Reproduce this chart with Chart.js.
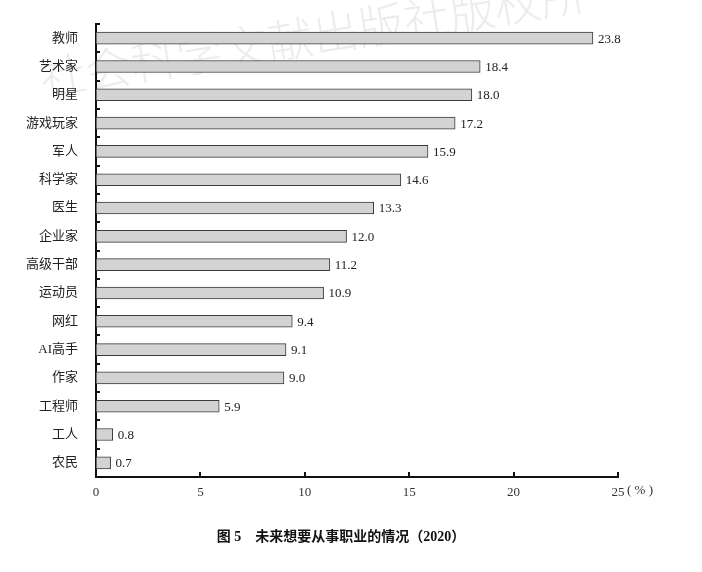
<!DOCTYPE html>
<html><head><meta charset="utf-8">
<script src="https://cdn.jsdelivr.net/npm/chart.js@4/dist/chart.umd.min.js"></script>
<style>html,body{margin:0;padding:0;background:#fff}#wrap{width:702px;height:572px;position:relative}</style>
</head><body><div id="wrap"><canvas id="c" width="702" height="572"></canvas></div>
<script>
const categories = ["教师","艺术家","明星","游戏玩家","军人","科学家","医生","企业家","高级干部","运动员","网红","AI高手","作家","工程师","工人","农民"];
const values = [23.8,18.4,18.0,17.2,15.9,14.6,13.3,12.0,11.2,10.9,9.4,9.1,9.0,5.9,0.8,0.7];
const xTicks = [0,5,10,15,20,25];
const unitLabel = "( % )";
const titleText = "图 5　未来想要从事职业的情况（2020）";
const watermark = "社会科学文献出版社版权所";

const serif = "'Liberation Serif','Noto Sans CJK SC',serif";

const deco = {
  id: 'deco',
  beforeDraw(chart) {
    const ctx = chart.ctx;
    ctx.save();
    ctx.translate(43, 96);
    ctx.rotate(-9 * Math.PI / 180);
    ctx.font = "300 46px 'Noto Sans CJK SC'";
    ctx.fillStyle = 'rgba(150,150,150,0.18)';
    ctx.textBaseline = 'alphabetic';
    ctx.fillText(watermark, 0, 0);
    ctx.restore();
  },
  afterDraw(chart) {
    const ctx = chart.ctx, x = chart.scales.x, y = chart.scales.y, ca = chart.chartArea;
    ctx.save();
    ctx.strokeStyle = '#111'; ctx.lineWidth = 2;
    const step = y.getPixelForValue(1) - y.getPixelForValue(0);
    for (let i = 0; i <= categories.length; i++) {
      const py = i < categories.length ? y.getPixelForValue(i) - step / 2 : ca.bottom;
      ctx.beginPath(); ctx.moveTo(ca.left, Math.round(py)); ctx.lineTo(ca.left + 4, Math.round(py)); ctx.stroke();
    }
    xTicks.forEach(v => {
      const px = Math.round(x.getPixelForValue(v));
      ctx.beginPath(); ctx.moveTo(px, ca.bottom); ctx.lineTo(px, ca.bottom - 5); ctx.stroke();
    });
    ctx.fillStyle = '#222'; ctx.font = "13px " + serif; ctx.textBaseline = 'middle'; ctx.textAlign = 'left';
    const meta = chart.getDatasetMeta(0);
    meta.data.forEach((bar, i) => {
      ctx.fillText(values[i].toFixed(1), bar.x + 5, bar.y + 1);
    });
    ctx.textAlign = 'left'; ctx.fillStyle = '#333'; ctx.font = "13px " + serif;
    ctx.fillText(unitLabel, x.getPixelForValue(25) + 9, ca.bottom + 14);
    ctx.fillStyle = '#111'; ctx.textAlign = 'center';
    ctx.font = "bold 14px 'Liberation Serif','Noto Sans CJK SC'";
    ctx.fillText(titleText, 341, 537);
    ctx.restore();
  }
};

new Chart(document.getElementById('c'), {
  type: 'bar',
  data: {
    labels: categories,
    datasets: [{
      data: values,
      backgroundColor: '#d3d3d3',
      borderColor: '#3a3a3a',
      borderWidth: 1,
      borderSkipped: false,
      barThickness: 12
    }]
  },
  options: {
    indexAxis: 'y',
    responsive: false,
    animation: false,
    layout: { padding: { left: 0, right: 84, top: 24, bottom: 65 } },
    plugins: { legend: { display: false }, tooltip: { enabled: false } },
    scales: {
      x: {
        min: 0, max: 25,
        afterBuildTicks: s => { s.ticks = xTicks.map(v => ({ value: v })); },
        afterFit: s => { s.height = 30; },
        grid: { display: false },
        border: { display: true, color: '#111', width: 2 },
        ticks: { color: '#333', font: { family: serif, size: 13 }, padding: 0, maxRotation: 0 }
      },
      y: {
        afterFit: s => { s.width = 96; },
        grid: { display: false },
        border: { display: true, color: '#111', width: 2 },
        ticks: { color: '#222', font: { family: serif, size: 13 }, padding: 10 }
      }
    }
  },
  plugins: [deco]
});
</script></body></html>
